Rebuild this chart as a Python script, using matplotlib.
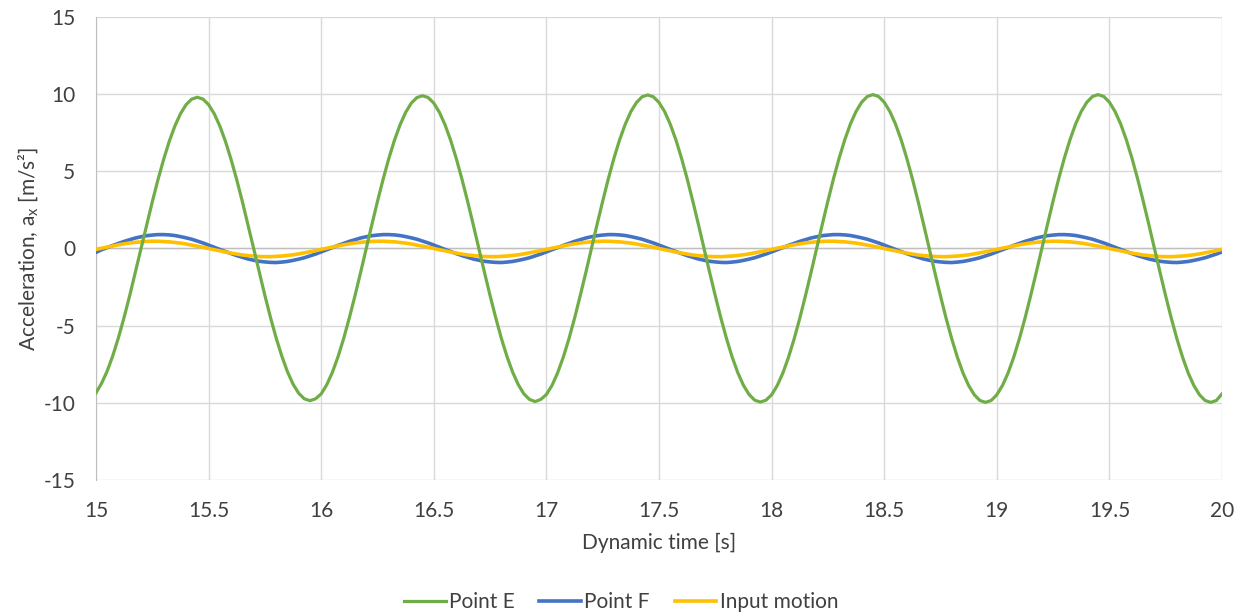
import numpy as np
import matplotlib
matplotlib.use("Agg")
import matplotlib.pyplot as plt

# dynamic time axis, sampled every 0.025 s from 15 s to 20 s
time_start = 15.0
time_step = 0.025

# horizontal acceleration at point E [m/s2]
point_e = [
    -9.35, -8.73, -7.93, -6.93, -5.76, -4.45, -3.03, -1.53, 0.00, 1.53,
    3.03, 4.45, 5.76, 6.93, 7.93, 8.73, 9.32, 9.68, 9.80, 9.68,
    9.32, 8.73, 7.93, 6.93, 5.76, 4.45, 3.03, 1.53, 0.00, -1.54,
    -3.05, -4.48, -5.80, -6.97, -7.98, -8.79, -9.38, -9.74, -9.86, -9.74,
    -9.42, -8.82, -8.01, -7.00, -5.82, -4.49, -3.06, -1.55, 0.00, 1.55,
    3.06, 4.49, 5.82, 7.00, 8.01, 8.82, 9.42, 9.78, 9.90, 9.78,
    9.42, 8.82, 8.01, 7.00, 5.82, 4.49, 3.06, 1.55, 0.00, -1.55,
    -3.06, -4.49, -5.82, -7.00, -8.01, -8.82, -9.42, -9.78, -9.92, -9.78,
    -9.46, -8.87, -8.05, -7.04, -5.85, -4.52, -3.07, -1.56, 0.00, 1.56,
    3.07, 4.52, 5.85, 7.04, 8.05, 8.87, 9.46, 9.83, 9.95, 9.83,
    9.46, 8.87, 8.05, 7.04, 5.85, 4.52, 3.07, 1.56, 0.00, -1.56,
    -3.07, -4.52, -5.85, -7.04, -8.05, -8.87, -9.46, -9.83, -9.95, -9.83,
    -9.48, -8.88, -8.07, -7.05, -5.86, -4.53, -3.08, -1.56, 0.00, 1.56,
    3.08, 4.53, 5.86, 7.05, 8.07, 8.88, 9.48, 9.85, 9.97, 9.85,
    9.48, 8.88, 8.07, 7.05, 5.86, 4.53, 3.08, 1.56, 0.00, -1.56,
    -3.08, -4.53, -5.86, -7.05, -8.07, -8.88, -9.48, -9.85, -9.97, -9.85,
    -9.48, -8.88, -8.07, -7.05, -5.86, -4.53, -3.08, -1.56, 0.00, 1.56,
    3.08, 4.53, 5.86, 7.05, 8.07, 8.88, 9.48, 9.85, 9.97, 9.85,
    9.48, 8.88, 8.07, 7.05, 5.86, 4.53, 3.08, 1.56, 0.00, -1.56,
    -3.08, -4.53, -5.86, -7.05, -8.07, -8.88, -9.48, -9.85, -9.97, -9.85,
    -9.42,
]

# horizontal acceleration at point F [m/s2]
point_f = [
    -0.25, -0.08, 0.06, 0.20, 0.33, 0.46, 0.57, 0.68, 0.76, 0.83,
    0.87, 0.90, 0.90, 0.88, 0.84, 0.77, 0.69, 0.60, 0.48, 0.36,
    0.22, 0.08, -0.06, -0.20, -0.33, -0.46, -0.57, -0.68, -0.76, -0.83,
    -0.87, -0.90, -0.91, -0.88, -0.84, -0.77, -0.69, -0.60, -0.48, -0.36,
    -0.22, -0.08, 0.06, 0.20, 0.33, 0.46, 0.57, 0.68, 0.76, 0.83,
    0.87, 0.90, 0.90, 0.88, 0.84, 0.77, 0.69, 0.60, 0.48, 0.36,
    0.22, 0.08, -0.06, -0.20, -0.33, -0.46, -0.57, -0.68, -0.76, -0.83,
    -0.87, -0.90, -0.91, -0.88, -0.84, -0.77, -0.69, -0.60, -0.48, -0.36,
    -0.22, -0.08, 0.06, 0.20, 0.33, 0.46, 0.57, 0.68, 0.76, 0.83,
    0.87, 0.90, 0.90, 0.88, 0.84, 0.77, 0.69, 0.60, 0.48, 0.36,
    0.22, 0.08, -0.06, -0.20, -0.33, -0.46, -0.57, -0.68, -0.76, -0.83,
    -0.87, -0.90, -0.91, -0.88, -0.84, -0.77, -0.69, -0.60, -0.48, -0.36,
    -0.22, -0.08, 0.06, 0.20, 0.33, 0.46, 0.57, 0.68, 0.76, 0.83,
    0.87, 0.90, 0.90, 0.88, 0.84, 0.77, 0.69, 0.60, 0.48, 0.36,
    0.22, 0.08, -0.06, -0.20, -0.33, -0.46, -0.57, -0.68, -0.76, -0.83,
    -0.87, -0.90, -0.91, -0.88, -0.84, -0.77, -0.69, -0.60, -0.48, -0.36,
    -0.22, -0.08, 0.06, 0.20, 0.33, 0.46, 0.57, 0.68, 0.76, 0.83,
    0.87, 0.90, 0.90, 0.88, 0.84, 0.77, 0.69, 0.60, 0.48, 0.36,
    0.22, 0.08, -0.06, -0.20, -0.33, -0.46, -0.57, -0.68, -0.76, -0.83,
    -0.87, -0.90, -0.91, -0.88, -0.84, -0.77, -0.69, -0.60, -0.48, -0.36,
    -0.22,
]

# base input motion [m/s2]
input_motion = [
    -0.06, 0.02, 0.09, 0.17, 0.24, 0.30, 0.36, 0.40, 0.43, 0.46,
    0.47, 0.47, 0.45, 0.43, 0.39, 0.35, 0.29, 0.22, 0.15, 0.08,
    0.00, -0.08, -0.15, -0.23, -0.30, -0.36, -0.42, -0.46, -0.49, -0.52,
    -0.53, -0.53, -0.51, -0.49, -0.45, -0.41, -0.35, -0.28, -0.21, -0.14,
    -0.06, 0.02, 0.09, 0.17, 0.24, 0.30, 0.36, 0.40, 0.43, 0.46,
    0.47, 0.47, 0.45, 0.43, 0.39, 0.35, 0.29, 0.22, 0.15, 0.08,
    0.00, -0.08, -0.15, -0.23, -0.30, -0.36, -0.42, -0.46, -0.49, -0.52,
    -0.53, -0.53, -0.51, -0.49, -0.45, -0.41, -0.35, -0.28, -0.21, -0.14,
    -0.06, 0.02, 0.09, 0.17, 0.24, 0.30, 0.36, 0.40, 0.43, 0.46,
    0.47, 0.47, 0.45, 0.43, 0.39, 0.35, 0.29, 0.22, 0.15, 0.08,
    0.00, -0.08, -0.15, -0.23, -0.30, -0.36, -0.42, -0.46, -0.49, -0.52,
    -0.53, -0.53, -0.51, -0.49, -0.45, -0.41, -0.35, -0.28, -0.21, -0.14,
    -0.06, 0.02, 0.09, 0.17, 0.24, 0.30, 0.36, 0.40, 0.43, 0.46,
    0.47, 0.47, 0.45, 0.43, 0.39, 0.35, 0.29, 0.22, 0.15, 0.08,
    0.00, -0.08, -0.15, -0.23, -0.30, -0.36, -0.42, -0.46, -0.49, -0.52,
    -0.53, -0.53, -0.51, -0.49, -0.45, -0.41, -0.35, -0.28, -0.21, -0.14,
    -0.06, 0.02, 0.09, 0.17, 0.24, 0.30, 0.36, 0.40, 0.43, 0.46,
    0.47, 0.47, 0.45, 0.43, 0.39, 0.35, 0.29, 0.22, 0.15, 0.08,
    0.00, -0.08, -0.15, -0.23, -0.30, -0.36, -0.42, -0.46, -0.49, -0.52,
    -0.53, -0.53, -0.51, -0.49, -0.45, -0.41, -0.35, -0.28, -0.21, -0.14,
    -0.06,
]

x_ticks = [15, 15.5, 16, 16.5, 17, 17.5, 18, 18.5, 19, 19.5, 20]
y_ticks = [-15, -10, -5, 0, 5, 10, 15]

plt.rcParams['font.family'] = ['Lato', 'DejaVu Sans']
plt.rcParams['mathtext.fontset'] = 'custom'
plt.rcParams['mathtext.rm'] = 'Lato'
plt.rcParams['axes.unicode_minus'] = False

time = time_start + time_step * np.arange(len(point_e))

fig = plt.figure(figsize=(12.42, 6.16), dpi=100)
ax = fig.add_axes([0.0773, 0.2208, 0.9066, 0.7516])

text_color = '#404040'
ax.set_xlim(15, 20)
ax.set_ylim(-15, 15)
ax.set_xticks(x_ticks)
ax.set_xticklabels([f'{t:g}' for t in x_ticks])
ax.set_yticks(y_ticks)
ax.grid(True, color='#D9D9D9', linewidth=1.0)
ax.set_axisbelow(True)
ax.tick_params(length=0, labelsize=15, colors=text_color)
ax.tick_params(axis='x', pad=15)
ax.tick_params(axis='y', pad=15)
for side in ['top', 'right', 'bottom']:
    ax.spines[side].set_visible(False)
ax.spines['left'].set_color('#BFBFBF')
ax.axhline(0, color='#BFBFBF', linewidth=1.0, zorder=1)

# green drawn last so it sits over the two small curves
ln_f, = ax.plot(time, point_f, color='#4472C4', linewidth=2.6, zorder=3)
ln_in, = ax.plot(time, input_motion, color='#FFC000', linewidth=2.6, zorder=4)
ln_e, = ax.plot(time, point_e, color='#70AD47', linewidth=2.3, zorder=5)

ax.set_xlabel('Dynamic time [s]', fontsize=15, color=text_color, labelpad=9)
ax.set_ylabel(r'Acceleration, a$_\mathregular{x}$ [m/s²]', fontsize=15,
              color=text_color, labelpad=2)

fig.legend([ln_e, ln_f, ln_in], ['Point E', 'Point F', 'Input motion'],
           loc='center', bbox_to_anchor=(0.5, 0.022), ncol=3, frameon=False,
           fontsize=15, handlelength=2.0, handletextpad=0.15, columnspacing=1.2,
           labelcolor=text_color)

fig.savefig('out.png', dpi=100)
